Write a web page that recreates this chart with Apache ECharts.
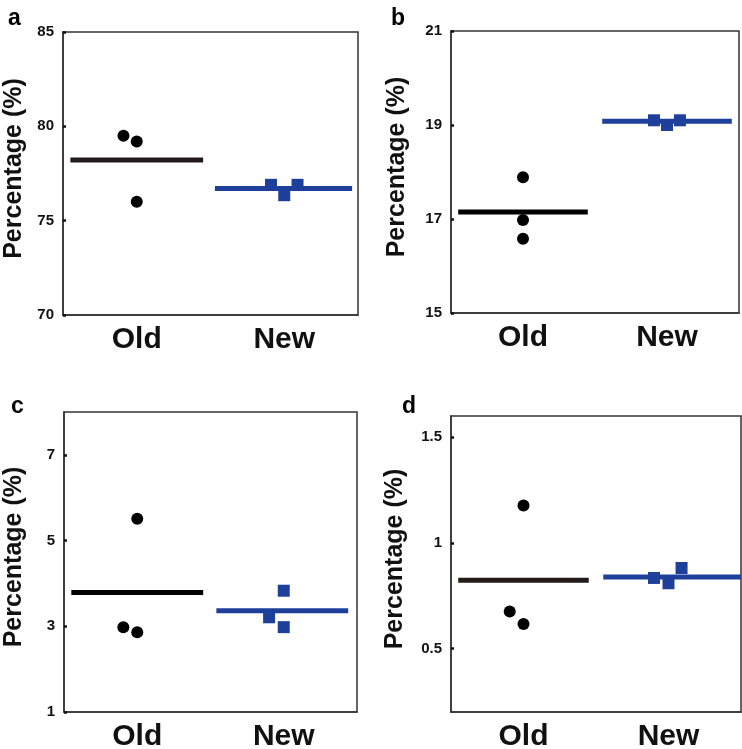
<!DOCTYPE html>
<html>
<head>
<meta charset="utf-8">
<title>Old vs New</title>
<script src="https://cdn.jsdelivr.net/npm/echarts@6/dist/echarts.min.js"></script>
<style>
html,body{margin:0;padding:0;background:#fff;}
#chart{width:742px;height:749px;}
</style>
</head>
<body>
<div id="chart"></div>
<script>
var categories = ['Old', 'New'];

// a
var aTicks = [70, 75, 80, 85];
var aOld = [79.5, 79.2, 76.0];
var aOldX = [0.41, 0.5, 0.5];
var aNew = [76.9, 76.35, 76.9];
var aNewX = [1.41, 1.5, 1.59];
var aMean = [78.22, 76.71];

// b
var bTicks = [15, 17, 19, 21];
var bOld = [17.89, 16.98, 16.58];
var bOldX = [0.5, 0.5, 0.5];
var bNew = [19.1, 19.0, 19.1];
var bNewX = [1.41, 1.5, 1.59];
var bMean = [17.15, 19.08];

// c
var cTicks = [1, 3, 5, 7];
var cOld = [5.51, 2.98, 2.86];
var cOldX = [0.5, 0.405, 0.5];
var cNew = [3.83, 3.21, 2.98];
var cNewX = [1.5, 1.4, 1.5];
var cMean = [3.79, 3.36];

// d
var dTicks = [0.5, 1, 1.5];
var dOld = [1.177, 0.675, 0.616];
var dOldX = [0.5, 0.405, 0.5];
var dNew = [0.834, 0.809, 0.881];
var dNewX = [1.4, 1.5, 1.59];
var dMean = [0.823, 0.838];

var FONT = "'Liberation Sans', Arial, sans-serif";
var BLUE = '#1e409b';

//每个面板的布局
var panels = [
	{tag:'a', ticks:aTicks, old:aOld, oldX:aOldX, neu:aNew, neuX:aNewX, mean:aMean,
	 min:70, max:85, grid:{left:63, top:32, width:295, height:283}, tagPos:[3, 2], nameGap:36,
	 oldColor:'#231a1a', newSpan:[1.03, 1.96]},
	{tag:'b', ticks:bTicks, old:bOld, oldX:bOldX, neu:bNew, neuX:bNewX, mean:bMean,
	 min:15, max:21, grid:{left:451, top:31, width:288, height:282}, tagPos:[386, 2], nameGap:41,
	 oldColor:'#000', newSpan:[1.05, 1.95]},
	{tag:'c', ticks:cTicks, old:cOld, oldX:cOldX, neu:cNew, neuX:cNewX, mean:cMean,
	 min:1, max:8, grid:{left:64, top:412, width:293, height:300}, tagPos:[6, 390], nameGap:37,
	 oldColor:'#000', newSpan:[1.04, 1.94]},
	{tag:'d', ticks:dTicks, old:dOld, oldX:dOldX, neu:dNew, neuX:dNewX, mean:dMean,
	 min:0.2, max:1.6, grid:{left:451, top:416, width:290, height:296}, tagPos:[397, 390], nameGap:43,
	 oldColor:'#231a1a', newSpan:[1.05, 2.0]}
];

function zip(xs, ys){
	var out = [];
	for(var i=0;i<ys.length;i++){
		out.push([xs[i], ys[i]]);
	}
	return out;
}

var option = {
	animation: false,
	backgroundColor: '#fff',
	title: [], grid: [], xAxis: [], yAxis: [], series: []
};

for(var i=0;i<panels.length;i++){
	var p = panels[i];
	option.title.push({
		text: p.tag, left: p.tagPos[0], top: p.tagPos[1],
		textStyle: {fontFamily: FONT, fontWeight: 'bold', fontSize: 23, color: '#000'}
	});
	option.grid.push({
		left: p.grid.left, top: p.grid.top, width: p.grid.width, height: p.grid.height,
		outerBoundsMode: 'none', containLabel: false,
		show: true, borderColor: '#333', borderWidth: 1.5, backgroundColor: 'transparent'
	});
	//分类轴，只显示标签和中间刻度
	option.xAxis.push({
		type: 'category', gridIndex: i, data: categories, boundaryGap: true,
		axisLine: {lineStyle: {color: '#333', width: 1.5}},
		axisTick: {inside: true, length: 4, lineStyle: {color: '#111', width: 2.5}},
		axisLabel: {margin: 10, fontFamily: FONT, fontWeight: 'bold', fontSize: 30, color: '#111'}
	});
	//数值轴，放点和均值线
	option.xAxis.push({type: 'value', gridIndex: i, min: 0, max: 2, show: false});
	option.yAxis.push({
		type: 'value', gridIndex: i, min: p.min, max: p.max,
		name: 'Percentage (%)', nameLocation: 'middle', nameRotate: 90, nameGap: p.nameGap,
		nameTextStyle: {fontFamily: FONT, fontWeight: 'bold', fontSize: 25, color: '#111', padding: [0, 0, 0, 10]},
		splitLine: {show: false},
		axisLine: {show: true, lineStyle: {color: '#333', width: 1.5}},
		axisTick: {show: true, inside: true, length: 3, customValues: p.ticks, lineStyle: {color: '#111', width: 2.5}},
		axisLabel: {margin: 9, customValues: p.ticks, fontFamily: FONT, fontWeight: 'bold', fontSize: 15, color: '#111'}
	});
	var xi = i * 2 + 1;
	option.series.push({
		type: 'line', xAxisIndex: xi, yAxisIndex: i, showSymbol: false, silent: true,
		data: [[0.05, p.mean[0]], [0.95, p.mean[0]]],
		lineStyle: {color: p.oldColor, width: 5}, z: 2
	});
	option.series.push({
		type: 'line', xAxisIndex: xi, yAxisIndex: i, showSymbol: false, silent: true,
		data: [[p.newSpan[0], p.mean[1]], [p.newSpan[1], p.mean[1]]],
		lineStyle: {color: BLUE, width: 5}, z: 2
	});
	option.series.push({
		type: 'scatter', xAxisIndex: xi, yAxisIndex: i, data: zip(p.oldX, p.old),
		symbol: 'circle', symbolSize: 12, itemStyle: {color: '#000', opacity: 1}, z: 3
	});
	option.series.push({
		type: 'scatter', xAxisIndex: xi, yAxisIndex: i, data: zip(p.neuX, p.neu),
		symbol: 'rect', symbolSize: 12, itemStyle: {color: BLUE, opacity: 1}, z: 3
	});
}

var myChart = echarts.init(document.getElementById('chart'));
myChart.setOption(option);
</script>
</body>
</html>
